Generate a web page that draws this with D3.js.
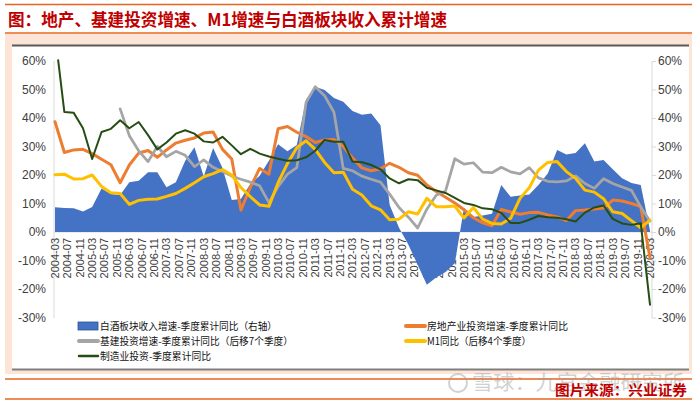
<!DOCTYPE html>
<html><head><meta charset="utf-8">
<script src="https://cdn.jsdelivr.net/npm/d3@7/dist/d3.min.js"></script>
<style>body{margin:0;background:#fff}svg{display:block}</style>
</head><body><svg id="c" width="695" height="405"></svg>
<script>
// ---------- data ----------
const titleText = "图：地产、基建投资增速、M1增速与白酒板块收入累计增速";
const sourceText = "图片来源：兴业证券";
const seriesNames = ["白酒板块收入增速-季度累计同比（右轴）","房地产业投资增速-季度累计同比","基建投资增速-季度累计同比（后移7个季度）","M1同比（后移4个季度）","制造业投资-季度累计同比"];
const yTicks = [-30,-20,-10,0,10,20,30,40,50,60];
// quarterly categories 2004-03 ... 2020-03
const quarters = d3.timeMonth.range(new Date(2004,2,1), new Date(2020,3,1), 3);
const xTickDates = d3.timeMonth.range(new Date(2004,2,1), new Date(2020,3,1), 4);
const xTickLabels = xTickDates.map(d3.timeFormat("%Y-%m"));

const baijiu = [8.7,8.4,8.3,7.2,8.8,15.3,13.3,13.0,17.5,18.0,
 21.0,21.0,15.7,17.5,25.0,29.7,19.5,29.5,22.5,11.2,
 11.6,16.8,19.7,25.0,30.8,28.3,30.5,46.5,51.0,49.8,
 47.0,45.7,42.5,41.1,41.6,37.5,9.5,1.5,-4.5,-11.5,
 -18.5,-16.0,-14.0,-11.0,8.5,5.3,5.8,6.4,16.5,12.4,
 12.8,13.2,16.5,20.5,28.8,27.2,27.7,31.1,24.7,25.3,
 22.0,18.9,17.2,16.5,0.5];
const realEstate = [38.7,27.9,28.8,29.0,27.5,25.5,23.6,17.3,23.5,27.7,
 28.6,26.2,28.8,31.2,32.2,33.0,34.7,35.1,29.0,25.6,
 7.7,15.6,22.3,20.3,36.2,37.0,35.0,33.5,31.4,32.3,
 32.5,30.0,26.0,22.5,21.5,22.2,24.1,22.7,20.8,19.9,
 16.5,14.2,12.2,10.2,7.8,5.0,3.2,2.2,7.9,7.0,
 6.2,6.8,6.9,6.0,5.3,4.0,7.5,7.7,8.1,8.4,
 11.2,10.9,10.0,8.9,-9.0];
const infraFirstIndex = 7; // starts 2005-12
const infra = [43.2,33.8,28.5,24.7,30.0,26.4,28.3,26.9,22.9,25.3,
 22.7,21.2,19.6,18.5,17.5,16.2,10.3,15.9,20.3,22.6,
 45.5,51.0,47.8,42.0,22.3,21.5,19.6,18.5,17.5,13.3,
 8.6,5.2,1.4,8.0,12.9,14.4,25.7,23.8,24.3,21.0,
 20.8,22.7,21.1,20.4,22.6,19.0,17.8,17.6,17.9,19.7,
 17.0,15.3,18.7,17.0,15.8,14.6,8.8,3.8];
const m1 = [20.1,20.3,18.6,18.7,20.0,16.0,13.8,13.5,9.7,11.1,
 11.5,11.6,12.5,13.5,15.3,17.3,19.4,20.5,21.9,20.0,
 15.6,12.4,9.5,9.0,17.3,24.0,29.6,32.0,29.0,24.4,
 20.8,21.0,15.0,13.0,9.2,7.8,4.3,4.5,7.1,6.3,
 11.8,8.9,8.9,9.1,4.9,8.6,4.5,3.0,2.8,4.8,
 11.8,15.5,21.7,24.4,24.7,21.2,18.8,14.7,14.0,11.7,
 7.1,6.5,4.0,1.5,4.2];
const mfgFirstDate = new Date(2004,3,1); // 2004-04, then quarterly from 2004-06
const mfg = [60.3,42.1,41.8,36.4,25.6,35.1,36.2,39.2,36.4,38.6,
 34.0,29.0,31.4,34.5,35.7,34.5,31.8,31.4,33.4,30.4,
 27.3,29.2,27.5,26.5,25.7,25.0,25.2,26.2,28.5,32.3,
 31.7,31.7,24.7,24.5,23.5,22.0,18.8,17.1,18.5,18.2,
 15.5,14.6,13.7,12.0,10.2,9.5,8.3,8.0,6.7,3.2,
 3.2,4.3,5.6,5.2,5.0,4.5,3.7,6.8,8.6,9.3,
 4.6,3.0,2.5,3.1,-25.5];

// ---------- drawing ----------
const svg = d3.select("#c");
const W = 695, H = 405;
const red = "#C00000", orangeRule = "#E8641E";
const colors = {blue:"#4472C4", orange:"#ED7D31", gray:"#A5A5A5", yellow:"#FFC000", green:"#264D12"};

svg.append("rect").attr("width",W).attr("height",H).attr("fill","#fff");
// frame
svg.append("rect").attr("x",5).attr("y",34).attr("width",687).attr("height",340).attr("fill","#FCE4D6");
svg.append("rect").attr("x",12).attr("y",45).attr("width",677).attr("height",325).attr("fill","#fff");
svg.append("line").attr("x1",12).attr("x2",689).attr("y1",45.5).attr("y2",45.5).attr("stroke","#595959").attr("stroke-width",2);
svg.append("line").attr("x1",12).attr("x2",689).attr("y1",369.5).attr("y2",369.5).attr("stroke","#7F7F7F").attr("stroke-width",2);
[4.5,33,379,399].forEach(yy=>svg.append("line").attr("x1",5).attr("x2",692).attr("y1",yy).attr("y2",yy).attr("stroke",orangeRule).attr("stroke-width",1.5));

svg.append("text").attr("x",8).attr("y",26).attr("font-family","Noto Sans CJK SC").attr("font-weight","bold")
  .attr("font-size",17).attr("fill",red).attr("textLength",439).attr("lengthAdjust","spacingAndGlyphs").text(titleText);

// watermark
const wm = svg.append("g").attr("opacity",0.45);
wm.append("circle").attr("cx",458).attr("cy",383).attr("r",9).attr("fill","none").attr("stroke","#9a9a9a").attr("stroke-width",2);
wm.append("text").attr("x",472).attr("y",390).attr("font-family","Noto Sans CJK SC").attr("font-size",20)
  .attr("fill","#9a9a9a").attr("textLength",212).attr("lengthAdjust","spacingAndGlyphs").text("雪球：九宫金融研究所");

svg.append("text").attr("x",555).attr("y",395).attr("font-family","Noto Sans CJK SC").attr("font-weight","bold")
  .attr("font-size",14).attr("fill",red).attr("textLength",132).attr("lengthAdjust","spacingAndGlyphs").text(sourceText);

// scales
const x = d3.scaleTime().domain([new Date(2004,2,1), new Date(2020,2,1)]).range([55,650]);
const y = d3.scaleLinear().domain([-30,60]).range([317.5,61]);

// axis lines
svg.append("line").attr("x1",54).attr("x2",54).attr("y1",61).attr("y2",318).attr("stroke","#D9D9D9");
svg.append("line").attr("x1",652).attr("x2",652).attr("y1",61).attr("y2",318).attr("stroke","#D9D9D9");
svg.append("line").attr("x1",54).attr("x2",652).attr("y1",y(0)).attr("y2",y(0)).attr("stroke","#D9D9D9");

// y axes
const axL = d3.axisLeft(y).tickValues(yTicks).tickSize(0).tickPadding(0).tickFormat(d=>d+"%");
const gL = svg.append("g").attr("transform","translate(46,0)").call(axL);
const axR = d3.axisRight(y).tickValues(yTicks).tickSize(4).tickPadding(2).tickFormat(d=>d+"%");
const gR = svg.append("g").attr("transform","translate(652,0)").call(axR);
[gL,gR].forEach(g=>{
  g.select(".domain").remove();
  g.selectAll("line").attr("stroke","#D9D9D9");
  g.selectAll("text").attr("font-family","Liberation Sans Narrow, Arial Narrow, sans-serif").attr("font-size",12).attr("fill","#404040");
});

// x labels
const gx = svg.append("g");
gx.selectAll("text").data(xTickDates).join("text")
  .attr("transform",d=>`translate(${x(d)},238) rotate(-90)`)
  .attr("text-anchor","end").attr("dy","0.35em")
  .attr("font-family","Liberation Sans, Arial, sans-serif").attr("font-size",11).attr("fill","#404040")
  .text((d,i)=>xTickLabels[i]);

// area
const areaData = quarters.map((d,i)=>({d, v: baijiu[i]}));
svg.append("path").datum(areaData)
  .attr("d", d3.area().x(p=>x(p.d)).y0(y(0)).y1(p=>y(p.v)))
  .attr("fill",colors.blue);

const lineGen = d3.line().x(p=>x(p.d)).y(p=>y(p.v)).curve(d3.curveLinear);
function drawLine(dates, vals, color, w){
  svg.append("path").datum(vals.map((v,i)=>({d:dates[i], v})))
    .attr("d", lineGen).attr("fill","none").attr("stroke",color).attr("stroke-width",w)
    .attr("stroke-linejoin","round").attr("stroke-linecap","round");
}
drawLine(quarters, realEstate, colors.orange, 3);
drawLine(quarters.slice(infraFirstIndex), infra, colors.gray, 2.75);
drawLine(quarters, m1, colors.yellow, 3);
drawLine([mfgFirstDate].concat(quarters.slice(1)), mfg, colors.green, 2);

// legend
const lg = svg.append("g").attr("font-family","Noto Sans CJK SC").attr("font-size",10).attr("fill","#111");
const items = [
  {x:78, y:326, c:colors.blue, type:"rect", t:seriesNames[0], len:177},
  {x:405, y:326, c:colors.orange, type:"line", w:4, t:seriesNames[1], len:141},
  {x:78, y:341, c:colors.gray, type:"line", w:4, t:seriesNames[2], len:193},
  {x:405, y:341, c:colors.yellow, type:"line", w:4, t:seriesNames[3], len:104},
  {x:78, y:356, c:colors.green, type:"line", w:2.5, t:seriesNames[4], len:111}
];
items.forEach(it=>{
  if(it.type==="rect"){
    lg.append("rect").attr("x",it.x).attr("y",it.y-4).attr("width",20).attr("height",8).attr("fill",it.c).attr("stroke","#2F528F").attr("stroke-width",0.8);
  } else {
    lg.append("line").attr("x1",it.x+1).attr("x2",it.x+20).attr("y1",it.y).attr("y2",it.y).attr("stroke",it.c).attr("stroke-width",it.w).attr("stroke-linecap","round");
  }
  lg.append("text").attr("x",it.x+22).attr("y",it.y+3.5).attr("textLength",it.len).attr("lengthAdjust","spacingAndGlyphs").text(it.t);
});
</script></body></html>
